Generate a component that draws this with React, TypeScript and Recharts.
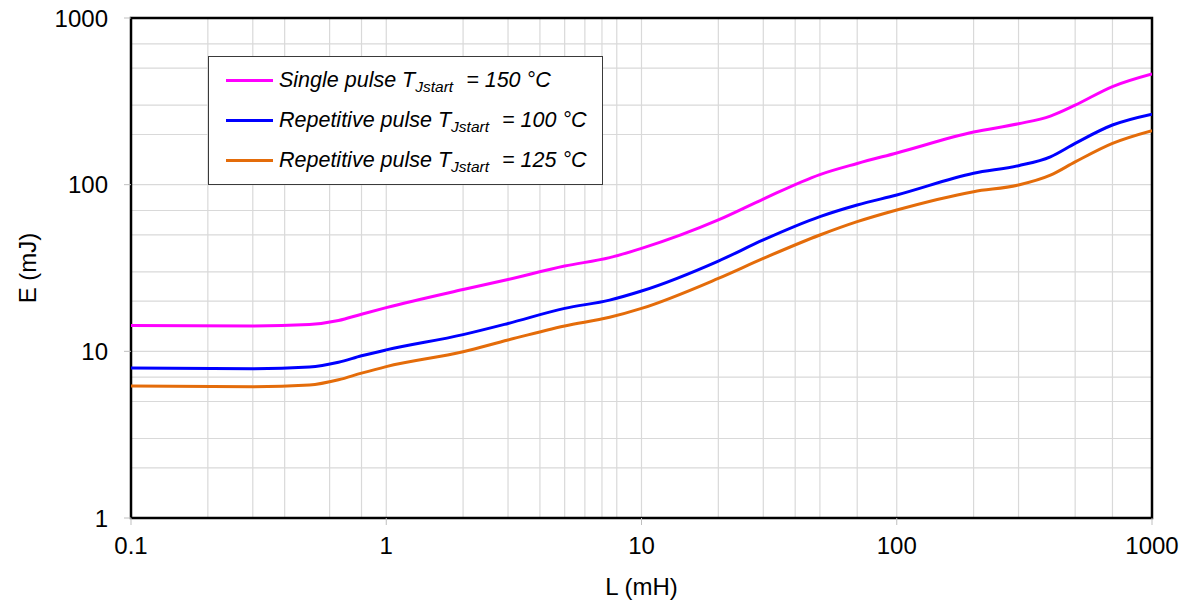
import React from 'react';
import {
  LineChart,
  Line,
  XAxis,
  YAxis,
  CartesianGrid,
  Legend,
  ReferenceArea,
} from 'recharts';

// L (mH) sample points
const inductance = [
  0.1, 0.3, 0.5, 0.65, 0.8, 1, 2, 3, 5, 7.5, 10, 20, 30, 50, 70, 100, 200, 300, 400, 500, 700, 1000,
];

// E (mJ)
const singlePulse150 = [
  14.3, 14.2, 14.5, 15.3, 16.7, 18.3, 23.5, 27.0, 32.5, 36.5, 41.5, 61.5, 82, 115, 134, 155, 207, 232,
  258, 300, 388, 462,
];
const repetitive100 = [
  7.94, 7.86, 8.05, 8.6, 9.4, 10.2, 12.6, 14.7, 18.1, 20.3, 23.0, 34.8, 46.6, 64.3, 75.5, 86.7, 117,
  130, 147, 177, 228, 265,
];
const repetitive125 = [
  6.19, 6.13, 6.28, 6.75, 7.4, 8.1, 9.95, 11.7, 14.2, 16.0, 18.1, 27.4, 36.1, 49.9, 60, 70.5, 90.8,
  99.5, 114, 137, 177, 211,
];

const xTicks = [0.1, 1, 10, 100, 1000];
const yTicks = [1, 10, 100, 1000];
const steps = [1, 2, 3, 4, 5, 6, 7, 8, 9];

const xGrid = [0.1, 1, 10, 100].flatMap((d) => steps.map((s) => +(d * s).toPrecision(3))).concat(1000);
const yGrid = [1, 10, 100].flatMap((d) => steps.map((s) => d * s)).concat(1000);

const series = [
  { key: 'single', name: 'Single pulse', temp: '150', color: '#FF00FF' },
  { key: 'rep100', name: 'Repetitive pulse', temp: '100', color: '#0000FF' },
  { key: 'rep125', name: 'Repetitive pulse', temp: '125', color: '#E46C0A' },
];

const chartData = inductance.map((L, i) => ({
  L,
  single: singlePulse150[i],
  rep100: repetitive100[i],
  rep125: repetitive125[i],
}));

const FONT = '"Liberation Sans", Arial, sans-serif';

const LegendBox = () => (
  <div
    style={{
      width: 395,
      height: 129,
      boxSizing: 'border-box',
      border: '1px solid #3a3a3a',
      background: '#fff',
      position: 'relative',
      fontFamily: FONT,
      fontStyle: 'italic',
      fontSize: 21.5,
      color: '#000',
    }}
  >
    {series.map((s, i) => (
      <div
        key={s.key}
        style={{
          position: 'absolute',
          left: 17,
          top: 9 + i * 40,
          height: 28,
          display: 'flex',
          alignItems: 'center',
          whiteSpace: 'nowrap',
        }}
      >
        <div style={{ width: 47, height: 3, background: s.color, marginRight: 6 }} />
        <span>
          {s.name} T
          <span style={{ fontSize: 15.5, position: 'relative', top: 5 }}>Jstart</span>
          <span style={{ marginLeft: 13 }}>= {s.temp} °C</span>
        </span>
      </div>
    ))}
  </div>
);

const tickStyle = { fill: '#000', fontSize: 24, fontFamily: FONT };

export default function App() {
  return (
    <div style={{ position: 'absolute', left: 0, top: 0, background: '#fff' }}>
      <LineChart
        width={1190}
        height={602}
        data={chartData}
        margin={{ top: 18, right: 38, left: 0, bottom: 0 }}
      >
        <CartesianGrid
          stroke="#d9d9d9"
          strokeWidth={1.2}
          verticalValues={xGrid}
          horizontalValues={yGrid}
        />
        <XAxis
          dataKey="L"
          type="number"
          scale="log"
          domain={[0.1, 1000]}
          ticks={xTicks}
          allowDataOverflow
          height={84}
          axisLine={false}
          tickLine={{ stroke: '#bfbfbf' }}
          tickSize={7}
          tickMargin={12}
          tick={tickStyle}
          label={{
            value: 'L (mH)',
            position: 'insideBottom',
            offset: 7,
            style: { fill: '#000', fontSize: 24, fontFamily: FONT },
          }}
        />
        <YAxis
          type="number"
          scale="log"
          domain={[1, 1000]}
          ticks={yTicks}
          allowDataOverflow
          width={131}
          axisLine={false}
          tickLine={{ stroke: '#bfbfbf' }}
          tickSize={7}
          tickMargin={16}
          tick={tickStyle}
          label={{
            value: 'E (mJ)',
            angle: -90,
            position: 'insideLeft',
            offset: 27,
            style: { fill: '#000', fontSize: 24, fontFamily: FONT, textAnchor: 'middle' },
          }}
        />
        {series.map((s) => (
          <Line
            key={s.key}
            type="monotone"
            dataKey={s.key}
            name={s.name}
            stroke={s.color}
            strokeWidth={3}
            dot={false}
            activeDot={false}
            isAnimationActive={false}
          />
        ))}
        <ReferenceArea
          x1={0.1}
          x2={1000}
          y1={1}
          y2={1000}
          fill="none"
          fillOpacity={0}
          stroke="#000"
          strokeWidth={2.5}
        />
        <Legend
          verticalAlign="middle"
          layout="horizontal"
          content={() => <LegendBox />}
          wrapperStyle={{ left: 208, top: 56, width: 395, height: 129 }}
        />
      </LineChart>
    </div>
  );
}
